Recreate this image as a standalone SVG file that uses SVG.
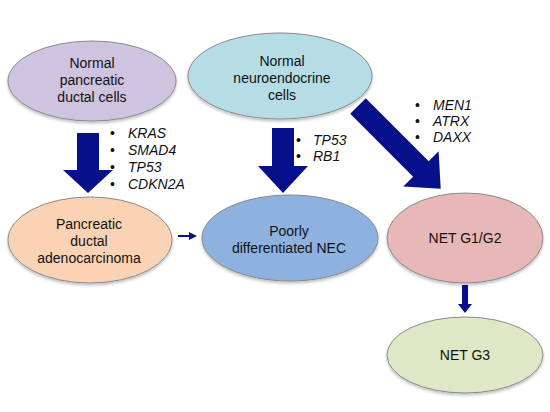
<svg xmlns="http://www.w3.org/2000/svg" width="550" height="412" viewBox="0 0 550 412">
<defs>
<filter id="sh" x="-10%" y="-10%" width="120%" height="130%">
<feDropShadow dx="0" dy="2" stdDeviation="1.5" flood-color="#000" flood-opacity="0.25"/>
</filter>
<style>
.node ellipse{stroke:#8a8a8a;stroke-width:1;filter:url(#sh)}
.lbl{font-family:"Liberation Sans",Arial,sans-serif;font-size:14px;fill:#111;text-anchor:middle}
.gene{font-family:"Liberation Sans",Arial,sans-serif;font-size:14px;fill:#111;font-style:italic}
.bul{font-family:"Liberation Sans",Arial,sans-serif;font-size:14px;fill:#111}
.arr{fill:#07108a}
</style>
</defs>
<rect width="550" height="412" fill="#fff"/>
<g id="connectors">
<polygon class="arr" points="77,133 99,133 99,170 113,170 88,193 63,170 77,170"/>
<polygon class="arr" points="272,128 294,128 294,166 308,166 283,193 258,166 272,166"/>
<polygon class="arr" transform="translate(358,106) rotate(45)" points="0,-11 89,-11 89,-25 117,0 89,25 89,11 0,11"/>
<line x1="178" y1="236" x2="191" y2="236" stroke="#07108a" stroke-width="2"/>
<polygon class="arr" points="189,232 197,236 189,240"/>
<rect class="arr" x="462" y="285" width="6" height="20"/>
<polygon class="arr" points="458,304 472,304 465,313"/>
</g>
<g id="n1" class="node">
<ellipse cx="92" cy="81" rx="84" ry="40" fill="#cfc4df"/>
<text class="lbl" x="92" y="68">Normal</text>
<text class="lbl" x="92" y="85">pancreatic</text>
<text class="lbl" x="92" y="102">ductal cells</text>
</g>
<g id="n2" class="node">
<ellipse cx="280" cy="76" rx="92" ry="43" fill="#b6dde6"/>
<text class="lbl" x="282" y="66">Normal</text>
<text class="lbl" x="282" y="83">neuroendocrine</text>
<text class="lbl" x="282" y="100">cells</text>
</g>
<g id="n3" class="node">
<ellipse cx="90" cy="240" rx="82" ry="43" fill="#fad3b4"/>
<text class="lbl" x="89" y="229">Pancreatic</text>
<text class="lbl" x="89" y="246">ductal</text>
<text class="lbl" x="89" y="263">adenocarcinoma</text>
</g>
<g id="n4" class="node">
<ellipse cx="290" cy="238" rx="88" ry="43" fill="#8db2e0"/>
<text class="lbl" x="289" y="236">Poorly</text>
<text class="lbl" x="289" y="253">differentiated NEC</text>
</g>
<g id="n5" class="node">
<ellipse cx="465" cy="238" rx="78" ry="45" fill="#e8b7b7"/>
<text class="lbl" x="465" y="243">NET G1/G2</text>
</g>
<g id="n6" class="node">
<ellipse cx="465" cy="355" rx="78" ry="38" fill="#dee8c6"/>
<text class="lbl" x="465" y="360">NET G3</text>
</g>
<g id="genes1">
<text class="bul" x="110" y="138">•</text><text class="gene" x="128" y="138">KRAS</text>
<text class="bul" x="110" y="155">•</text><text class="gene" x="128" y="155">SMAD4</text>
<text class="bul" x="110" y="172">•</text><text class="gene" x="128" y="172">TP53</text>
<text class="bul" x="110" y="189">•</text><text class="gene" x="128" y="189">CDKN2A</text>
</g>
<g id="genes2">
<text class="bul" x="296" y="145">•</text><text class="gene" x="313" y="145">TP53</text>
<text class="bul" x="296" y="161">•</text><text class="gene" x="313" y="161">RB1</text>
</g>
<g id="genes3">
<text class="bul" x="415" y="110">•</text><text class="gene" x="433" y="110">MEN1</text>
<text class="bul" x="415" y="126">•</text><text class="gene" x="433" y="126">ATRX</text>
<text class="bul" x="415" y="142">•</text><text class="gene" x="433" y="142">DAXX</text>
</g>
</svg>
